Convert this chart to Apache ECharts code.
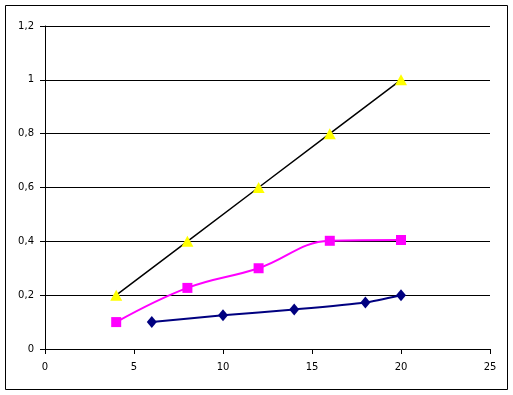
<!DOCTYPE html>
<html><head><meta charset="utf-8">
<script src="https://cdn.jsdelivr.net/npm/echarts@6/dist/echarts.min.js"></script>
<style>html,body{margin:0;padding:0;background:#fff}#c{width:513px;height:395px}</style>
</head><body><div id="c"></div>
<script>
const triX = [4, 8, 12, 16, 20];
const triY = [0.2, 0.4, 0.6, 0.8, 1.0];
const sqX = [4, 8, 12, 16, 20];
const sqY = [0.1, 0.227, 0.3, 0.402, 0.405];
const diaX = [6, 10, 14, 18, 20];
const diaY = [0.1, 0.125, 0.147, 0.173, 0.2];
const xTicks = [0, 5, 10, 15, 20, 25];
const yTicks = [0, 0.2, 0.4, 0.6, 0.8, 1, 1.2];

const pts = (xs, ys) => xs.map((x, i) => [x, ys[i]]);
const chart = echarts.init(document.getElementById('c'), null, {renderer: 'canvas'});
const font = {fontFamily: 'DejaVu Sans, Verdana, sans-serif', fontSize: 10, color: '#000'};
chart.setOption({
  animation: false,
  backgroundColor: '#fff',
  graphic: [{type: 'rect', shape: {x: 5.5, y: 5.5, width: 502, height: 384}, style: {fill: 'none', stroke: '#000', lineWidth: 1}, silent: true}],
  grid: {left: 45, right: 23, top: 26, bottom: 46, containLabel: false},
  xAxis: {type: 'value', min: xTicks[0], max: xTicks[xTicks.length-1], interval: 5,
    axisLine: {lineStyle: {color: '#000', width: 1}},
    axisTick: {show: true, inside: false, length: 5, lineStyle: {color: '#000'}},
    splitLine: {show: false},
    axisLabel: Object.assign({margin: 13}, font)},
  yAxis: {type: 'value', min: yTicks[0], max: yTicks[yTicks.length-1], interval: 0.2,
    axisLine: {show: true, lineStyle: {color: '#000', width: 1}},
    axisTick: {show: true, inside: false, length: 5, lineStyle: {color: '#000'}},
    splitLine: {show: true, lineStyle: {color: '#000', width: 1}},
    axisLabel: Object.assign({margin: 11, formatter: v => String(Math.round(v*10)/10).replace('.', ',')}, font)},
  series: [
    {type: 'line', data: pts(diaX, diaY), symbol: 'diamond', symbolSize: [10, 12],
      lineStyle: {color: '#000080', width: 2}, itemStyle: {color: '#000080'}, smooth: 0.2},
    {type: 'line', data: pts(sqX, sqY), symbol: 'rect', symbolSize: 10,
      lineStyle: {color: '#FF00FF', width: 2}, itemStyle: {color: '#FF00FF'}, smooth: 0.4},
    {type: 'line', data: pts(triX, triY), symbol: 'triangle', symbolSize: [12, 11],
      lineStyle: {color: '#000', width: 1.5}, itemStyle: {color: '#FFFF00'}, smooth: false}
  ]
});
</script></body></html>
